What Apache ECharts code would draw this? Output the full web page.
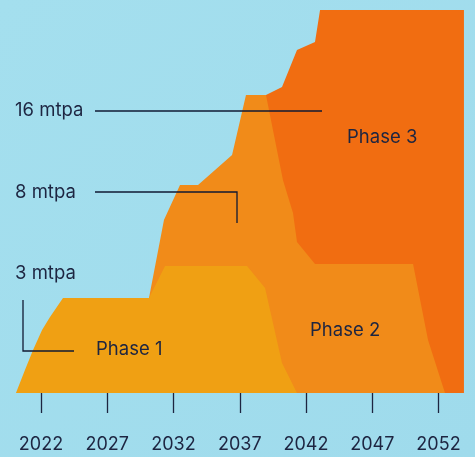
<!DOCTYPE html>
<html>
<head>
<meta charset="utf-8">
<script src="https://cdn.jsdelivr.net/npm/echarts@6/dist/echarts.min.js"></script>
<style>
  html, body { margin: 0; padding: 0; }
  #chart { width: 475px; height: 457px; }
</style>
</head>
<body>
<div id="chart"></div>
<script>
// capacity build-out, relative height per phase
var tickYears = [2022, 2027, 2032, 2037, 2042, 2047, 2052];

var phase1Years = [2020.11, 2020.79, 2021.40, 2022.08, 2022.68, 2023.66, 2030.15, 2031.36, 2037.55, 2038.91, 2040.19, 2041.32];
var phase1Values = [0, 2.3, 4.3, 6.3, 7.6, 9.5, 9.5, 12.7, 12.7, 10.5, 3.0, 0];

var phase2Years = [2030.15, 2031.28, 2032.49, 2033.85, 2036.42, 2037.47, 2038.98, 2040.26, 2041.02, 2041.32, 2042.68, 2050.08, 2051.21, 2052.49];
var phase2Values = [9.5, 17.3, 20.8, 20.8, 23.8, 29.8, 29.8, 21.3, 18.0, 15.1, 12.9, 12.9, 5.3, 0];

var phase3Years = [2038.83, 2040.19, 2041.32, 2042.68, 2043.06, 2053.92];
var phase3Values = [29.7, 30.6, 34.3, 35.1, 38.3, 38.3];

var textColor = '#1d2541';
var font = 'Inter, "Noto Sans", sans-serif';

function pairs(xs, ys) {
  var out = [];
  for (var i = 0; i < xs.length; i++) out.push([xs[i], ys[i]]);
  return out;
}

function areaSeries(name, xs, ys, color) {
  return {
    name: name,
    type: 'line',
    data: pairs(xs, ys),
    symbol: 'none',
    smooth: false,
    silent: true,
    lineStyle: { width: 0, color: color },
    areaStyle: { color: color, opacity: 1 }
  };
}

function label(text, x, y) {
  return {
    type: 'text', x: x, y: y, z: 100,
    style: { text: text, fill: textColor, font: '18.5px ' + font, verticalAlign: 'middle', align: 'left' }
  };
}
function lead(points) {
  return {
    type: 'polyline', z: 100,
    shape: { points: points },
    style: { stroke: '#111a33', lineWidth: 1.3, fill: null }
  };
}

var myChart = echarts.init(document.getElementById('chart'));
var option = {
  backgroundColor: new echarts.graphic.LinearGradient(0, 0, 1, 1, [
    { offset: 0, color: '#a4dfee' },
    { offset: 1, color: '#9fdbec' }
  ]),
  animation: false,
  grid: { left: 14.5, right: 10, top: 10, bottom: 64 },
  xAxis: {
    type: 'value',
    min: 2020,
    max: 2054,
    offset: 8,
    axisLine: { show: false },
    splitLine: { show: false },
    axisTick: {
      show: true,
      customValues: tickYears,
      length: 20,
      lineStyle: { color: textColor, width: 1.3 }
    },
    axisLabel: {
      customValues: tickYears,
      margin: 35,
      fontSize: 18,
      fontFamily: font,
      color: textColor,
      formatter: function (v) { return String(v); }
    }
  },
  yAxis: {
    type: 'value',
    min: 0,
    max: 38.3,
    show: false
  },
  series: [
    areaSeries('Phase 3', phase3Years, phase3Values, '#f16d11'),
    areaSeries('Phase 2', phase2Years, phase2Values, '#f18b19'),
    areaSeries('Phase 1', phase1Years, phase1Values, '#f0a013')
  ],
  graphic: [
    label('16 mtpa', 15, 110),
    lead([[95, 111], [322, 111]]),
    label('8 mtpa', 15, 192),
    lead([[95, 192], [237, 192], [237, 223]]),
    label('3 mtpa', 15, 273),
    lead([[23, 300], [23, 351], [74, 351]]),
    label('Phase 3', 347, 137),
    label('Phase 2', 310, 330),
    label('Phase 1', 96, 349)
  ]
};
myChart.setOption(option, true);
</script>
</body>
</html>
